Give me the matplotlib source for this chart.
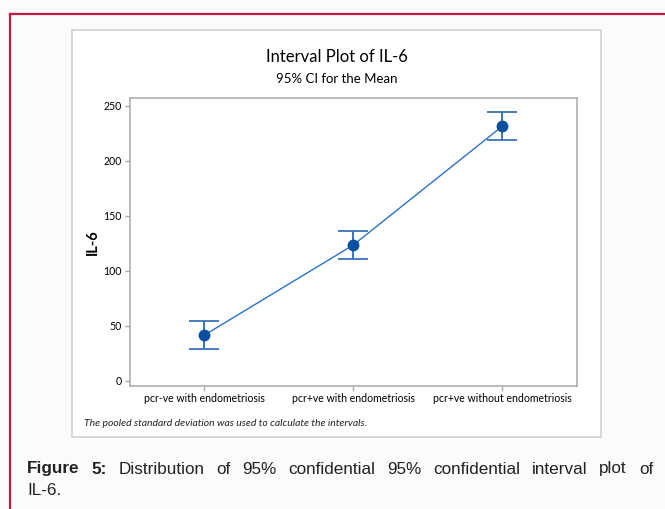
import matplotlib.pyplot as plt
from matplotlib.patches import Rectangle
from matplotlib.lines import Line2D

groups = ["pcr-ve with endometriosis", "pcr+ve with endometriosis", "pcr+ve without endometriosis"]
means = [41.5, 123.5, 231.5]
ci_low = [28.8, 110.9, 219.0]
ci_high = [54.2, 136.0, 244.3]
yticks = [0, 50, 100, 150, 200, 250]

W, H = 665, 509
fig = plt.figure(figsize=(W / 100, H / 100), dpi=100)
fig.patch.set_facecolor("#fcfafb")


def fx(px):
    return px / W


def fy(py):
    return 1 - py / H


# page frame (red rule on top and left)
fig.add_artist(Line2D([fx(10), 1], [fy(14), fy(14)], color="#c8174a", lw=1.6, zorder=-2))
fig.add_artist(Line2D([fx(10), fx(10)], [fy(14), 0], color="#c8174a", lw=1.6, zorder=-2))

# white chart panel
fig.add_artist(Rectangle((fx(72), fy(437)), fx(601) - fx(72), fy(30) - fy(437),
                         facecolor="white", edgecolor="#d2d2d2", lw=1.2, zorder=-1))

ax = fig.add_axes([fx(129.5), fy(385.7), fx(576.7) - fx(129.5), fy(98.3) - fy(385.7)])
ax.set_zorder(1)
x = list(range(len(groups)))
err_lo = [m - l for m, l in zip(means, ci_low)]
err_hi = [h - m for m, h in zip(means, ci_high)]
ax.errorbar(x, means, yerr=[err_lo, err_hi], fmt="none", ecolor="#3a73b8",
            elinewidth=1.4, capsize=10.5, capthick=1.3, zorder=2)
ax.plot(x, means, color="#2a72c4", lw=1.0, zorder=3)
ax.plot(x, means, "o", color="#0b4fa0", markersize=7.5, zorder=4)

ax.set_xlim(-0.5, 2.5)
ax.set_ylim(-4.3, 257)
ax.set_yticks(yticks)
ax.set_xticks(x)
ax.set_xticklabels(groups, fontsize=7.6, family="Lato", color="#000000")
ax.set_yticklabels([str(t) for t in yticks], fontsize=7.6, family="Lato", color="#000000")
for s in ax.spines.values():
    s.set_color("#a8a8a8")
    s.set_linewidth(1.1)
ax.tick_params(axis="both", color="#a8a8a8", length=3.5, width=1, pad=2)
ax.set_ylabel("IL-6", fontsize=10.5, fontweight="bold", family="Lato", labelpad=2.5)

fig.text(fx(337), fy(57), "Interval Plot of IL-6", ha="center", va="center",
         fontsize=12, family="Lato", color="#000000")
fig.text(fx(337), fy(79), "95% CI for the Mean", ha="center", va="center",
         fontsize=9.5, family="Lato", color="#000000")
fig.text(fx(84), fy(423), "The pooled standard deviation was used to calculate the intervals.",
         ha="left", va="center", fontsize=7.5, style="italic", family="Lato", color="#222222")

# caption, first line justified word by word
renderer = fig.canvas.get_renderer()
line1 = [("Figure", "bold"), ("5:", "bold"), ("Distribution", "normal"), ("of", "normal"),
         ("95%", "normal"), ("confidential", "normal"), ("95%", "normal"),
         ("confidential", "normal"), ("interval", "normal"), ("plot", "normal"), ("of", "normal")]
left, right = 27, 653
words = []
for w, wt in line1:
    t = fig.text(0, fy(469), w, ha="left", va="center", fontsize=12.3,
                 family="Liberation Sans", fontweight=wt, color="#222222")
    words.append(t)
widths = [t.get_window_extent(renderer).width for t in words]
gap = (right - left - sum(widths)) / (len(words) - 1)
pos = left
for t, wd in zip(words, widths):
    t.set_x(fx(pos))
    pos += wd + gap
fig.text(fx(left), fy(490.5), "IL-6.", ha="left", va="center", fontsize=12.3,
         family="Liberation Sans", color="#222222")

fig.savefig("out.png", dpi=100, facecolor=fig.get_facecolor())
